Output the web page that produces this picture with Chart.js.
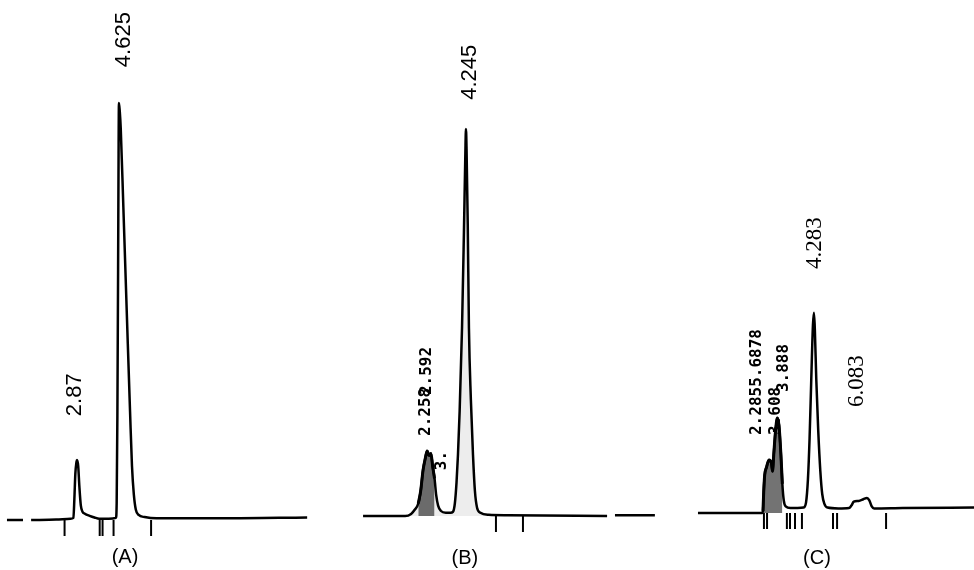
<!DOCTYPE html>
<html>
<head>
<meta charset="utf-8">
<script src="https://cdn.jsdelivr.net/npm/chart.js@4.4.1/dist/chart.umd.min.js"></script>
<style>
  html, body { margin: 0; padding: 0; background: #fff; }
  #wrap { position: relative; width: 974px; height: 570px; overflow: hidden; }
  .panel { position: absolute; top: 0; height: 570px; }
</style>
</head>
<body>
<div id="wrap">
  <div class="panel" style="left:0;width:310px"><canvas id="chartA" width="310" height="570"></canvas></div>
  <div class="panel" style="left:355px;width:305px"><canvas id="chartB" width="305" height="570"></canvas></div>
  <div class="panel" style="left:680px;width:294px"><canvas id="chartC" width="294" height="570"></canvas></div>
</div>
<script>
// Chromatograms (A), (B), (C): retention time in min, detector signal relative to peak 4.625 = 100.
// null = gap in the recorder trace.
const timeA   = [-0.06, 0.61, 0.8, 0.95, 2.0, 2.6, 2.72, 2.76, 2.80, 2.85, 2.87, 2.92, 2.97, 3.03, 3.10, 3.20, 3.40, 3.60, 3.80, 4.20, 4.50, 4.53, 4.56, 4.59, 4.61, 4.625, 4.66, 4.70, 4.81, 4.98, 5.09, 5.17, 5.25, 5.33, 5.45, 5.70, 6.20, 9.00, 12.50];
const signalA = [0, 0, null, 0, 0.1, 0.3, 0.5, 5, 11, 14, 14.4, 13, 8, 3.5, 2, 1.5, 1.0, 0.6, 0.3, 0.3, 0.5, 4, 25, 60, 88, 100, 98, 94, 75, 45, 26, 13, 6, 2.5, 1.2, 0.7, 0.4, 0.4, 0.6];
const marksA  = [2.35, 3.82, 3.94, 4.40, 5.97];

const timeB   = [-0.06, 1.70, 1.95, 2.10, 2.25, 2.35, 2.45, 2.55, 2.62, 2.70, 2.78, 2.85, 2.93, 3.00, 3.08, 3.20, 3.40, 3.60, 3.70, 3.78, 3.85, 3.91, 3.98, 4.08, 4.16, 4.22, 4.245, 4.27, 4.32, 4.37, 4.45, 4.54, 4.62, 4.71, 4.85, 5.20, 6.00, 10.15, 10.3, 10.48, 12.15];
const signalB = [0, 0, 0.5, 1.5, 3, 6, 11, 14, 15.6, 14.5, 15, 12, 9, 5, 2.5, 1.2, 0.8, 0.8, 1, 3, 8, 14.6, 25, 45, 68, 87, 92.8, 88, 70, 45, 28, 14.6, 6, 2, 0.8, 0.3, 0.2, 0, null, 0.2, 0.2];
const marksB  = [5.50, 6.63];

const timeC   = [-0.57, 2.10, 2.15, 2.18, 2.22, 2.30, 2.40, 2.50, 2.55, 2.60, 2.68, 2.75, 2.82, 2.90, 2.96, 3.02, 3.10, 3.30, 3.60, 3.85, 3.95, 4.03, 4.10, 4.17, 4.24, 4.283, 4.32, 4.38, 4.46, 4.55, 4.63, 4.72, 4.85, 5.30, 5.75, 5.85, 5.95, 6.15, 6.35, 6.50, 6.60, 6.70, 6.80, 8.00, 10.98];
const signalC = [0, 0, 0.5, 5, 9, 11, 12.7, 12, 10, 14, 20, 22.8, 21, 14, 7, 3, 1.6, 1.2, 1.2, 1.3, 2.5, 8, 18, 32, 45, 48, 44, 32, 20, 10, 4.5, 2.2, 1.3, 1.1, 1.2, 1.8, 2.7, 2.9, 3.3, 3.6, 3.0, 1.6, 1.1, 1.2, 1.3];
const marksC  = [2.19, 2.32, 3.15, 3.28, 3.49, 3.78, 5.08, 5.25, 7.30];

// printed retention-time labels
const labelsA = ['4.625', '2.87'];
const labelsB = ['4.245', '2.258', '2.592', '3.'];
const labelsC = ['4.283', '6.083', '2.2855.6878', '3.608', '3.888'];
const captions = ['(A)', '(B)', '(C)'];

const PX_PER_MIN = 23.9, PX_PER_UNIT = 4.17, H = 570;

const labelPlugin = {
  id: 'peakLabels',
  afterDatasetsDraw(chart, args, opts) {
    const { ctx, scales: { x, y } } = chart;
    ctx.save();
    ctx.fillStyle = '#000';
    opts.items.forEach((it) => {
      const px = x.getPixelForValue(it.t), py = y.getPixelForValue(it.y);
      ctx.save();
      ctx.translate(px, py);
      ctx.font = it.font;
      if (it.rotate) { ctx.rotate(-Math.PI / 2); ctx.textAlign = 'left'; } else { ctx.textAlign = 'center'; }
      ctx.textBaseline = 'middle';
      ctx.fillText(it.text, 0, 0);
      ctx.restore();
    });
    ctx.restore();
  }
};

// shade: [from, to) index range of the trace drawn as a dark blotch (unresolved cluster), tint = light fill under trace
function makePanel(id, left, width, zeroPx, basePx, times, signal, marks, items, shade, tint) {
  const pts = times.map((t, i) => ({ x: t, y: signal[i] }));
  const datasets = [
    { data: pts, showLine: true, borderColor: '#000', borderWidth: 2.5, pointRadius: 0, cubicInterpolationMode: 'monotone', spanGaps: false,
      fill: tint ? 'origin' : false, backgroundColor: tint || 'transparent' },
    { data: marks.map((t) => ({ x: t, y: -8 / PX_PER_UNIT })), pointStyle: 'line', rotation: 90, radius: 8, borderWidth: 2, borderColor: '#000', showLine: false }
  ];
  if (shade) {
    datasets.push({ data: pts.slice(shade[0], shade[1]), showLine: true, borderColor: '#000', borderWidth: 3, pointRadius: 0,
      cubicInterpolationMode: 'monotone', fill: 'origin', backgroundColor: 'rgba(0,0,0,0.55)' });
  }
  new Chart(document.getElementById(id), {
    type: 'scatter',
    data: { datasets },
    options: {
      responsive: false, animation: false, devicePixelRatio: 1,
      layout: { padding: 0, autoPadding: false },
      plugins: { legend: { display: false }, tooltip: { enabled: false }, peakLabels: { items } },
      scales: {
        x: { type: 'linear', display: false, min: (left - zeroPx) / PX_PER_MIN, max: (left + width - zeroPx) / PX_PER_MIN },
        y: { display: false, min: -(H - basePx) / PX_PER_UNIT, max: basePx / PX_PER_UNIT }
      }
    },
    plugins: [labelPlugin]
  });
}

const sans = '22px "Liberation Sans", Arial, sans-serif';
const serif = '23px "Liberation Serif", "Times New Roman", serif';
const dot = 'bold 16px "DejaVu Sans Mono", monospace';
const cap = '20px "Liberation Sans", Arial, sans-serif';

makePanel('chartA', 0, 310, 8.4, 520, timeA, signalA, marksA, [
  { text: labelsA[0], t: 4.82, y: 108.6, font: sans, rotate: true },
  { text: labelsA[1], t: 2.79, y: 24.9, font: sans, rotate: true },
  { text: captions[0], t: 4.88, y: -9.1, font: cap }
]);

makePanel('chartB', 355, 305, 364.5, 516, timeB, signalB, marksB, [
  { text: labelsB[0], t: 4.41, y: 99.8, font: sans, rotate: true },
  { text: labelsB[1], t: 2.55, y: 19.2, font: dot, rotate: true },
  { text: labelsB[2], t: 2.62, y: 29, font: dot, rotate: true },
  { text: labelsB[3], t: 3.24, y: 11, font: dot, rotate: true },
  { text: captions[1], t: 4.20, y: -10.1, font: cap }
], [4, 13], 'rgba(0,0,0,0.07)');

makePanel('chartC', 680, 294, 711.6, 513, timeC, signalC, marksC, [
  { text: labelsC[0], t: 4.33, y: 58.5, font: serif, rotate: true },
  { text: labelsC[1], t: 6.08, y: 25.4, font: serif, rotate: true },
  { text: labelsC[2], t: 1.90, y: 18.7, font: dot, rotate: true },
  { text: labelsC[3], t: 2.69, y: 18.7, font: dot, rotate: true },
  { text: labelsC[4], t: 3.03, y: 29, font: dot, rotate: true },
  { text: captions[2], t: 4.41, y: -10.8, font: cap }
], [2, 15]);
</script>
</body>
</html>
